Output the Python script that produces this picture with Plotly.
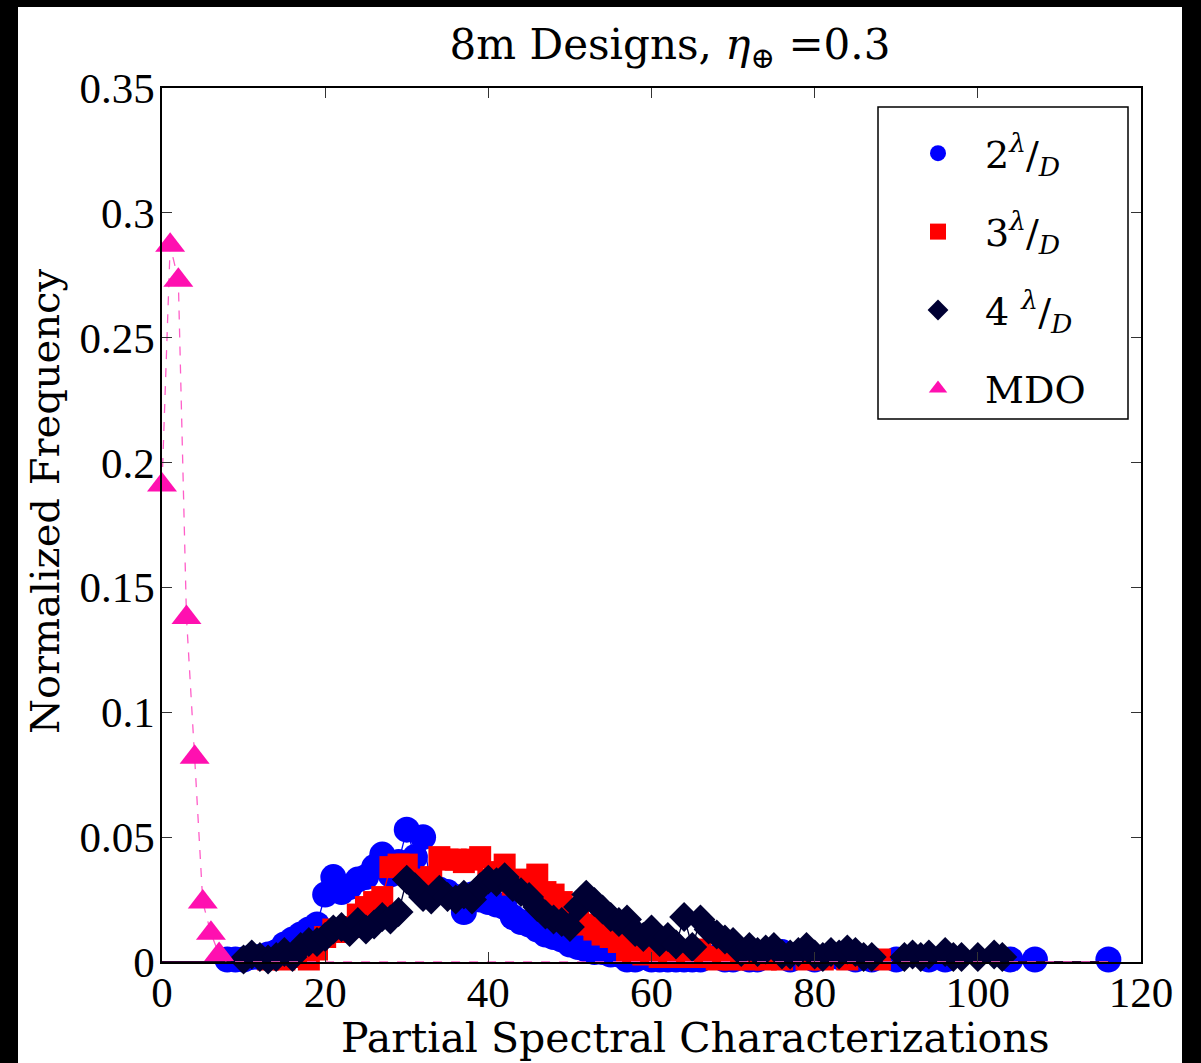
import plotly.graph_objects as go

# ---------------- data ----------------
x_2ld = [8, 9, 10, 11, 12, 13, 14, 15, 16, 17, 18, 19, 20, 21, 22, 23, 24, 25, 26, 27,
         28, 29, 30, 31, 32, 33, 34, 35, 36, 37, 38, 39, 40, 41, 42, 43, 44, 45, 46, 47,
         48, 49, 50, 51, 52, 53, 54, 55, 56, 57, 58, 59, 60, 61, 62, 63, 64, 65, 66, 68,
         69, 70, 72, 73, 75, 76, 77, 78, 80, 83, 85, 87, 90, 94, 96, 104, 107, 116]
y_2ld = [0.001, 0.001, 0.001, 0.002, 0.002, 0.003, 0.004, 0.007, 0.009, 0.011, 0.013, 0.015,
         0.027, 0.034, 0.028, 0.030, 0.033, 0.034, 0.038, 0.043, 0.035, 0.040, 0.053, 0.042,
         0.050, 0.030, 0.029, 0.028, 0.026, 0.020, 0.027, 0.025, 0.024, 0.023, 0.022, 0.018,
         0.016, 0.015, 0.013, 0.011, 0.010, 0.009, 0.007, 0.006, 0.005, 0.004, 0.004, 0.003,
         0.003, 0.001, 0.001, 0.002, 0.001, 0.001, 0.001, 0.001, 0.001, 0.001, 0.001, 0.002,
         0.001, 0.001, 0.001, 0.001, 0.002, 0.004, 0.001, 0.003, 0.001, 0.002, 0.001, 0.001,
         0.001, 0.001, 0.001, 0.001, 0.001, 0.001]

x_3ld = [13, 15, 17, 18, 19, 20, 21, 22, 23, 24, 25, 26, 27, 28, 29, 30, 31, 32, 33, 34,
         35, 36, 37, 38, 39, 40, 41, 42, 43, 44, 45, 46, 47, 48, 49, 50, 51, 52, 53, 54,
         55, 56, 57, 58, 59, 60, 61, 62, 63, 64, 65, 66, 67, 68, 69, 70, 72, 74, 76, 79,
         81, 84, 88]
y_3ld = [0.001, 0.001, 0.002, 0.001, 0.005, 0.010, 0.013, 0.012, 0.014, 0.019, 0.022, 0.024,
         0.026, 0.038, 0.039, 0.039, 0.033, 0.030, 0.034, 0.042, 0.041, 0.041, 0.040, 0.041,
         0.042, 0.033, 0.036, 0.039, 0.031, 0.033, 0.030, 0.035, 0.028, 0.027, 0.024, 0.021,
         0.018, 0.015, 0.013, 0.011, 0.010, 0.008, 0.004, 0.005, 0.003, 0.004, 0.002, 0.004,
         0.002, 0.003, 0.002, 0.005, 0.002, 0.001, 0.002, 0.001, 0.001, 0.001, 0.001, 0.001,
         0.001, 0.001, 0.001]

x_4ld = [10, 11, 12, 13, 14, 15, 16, 17, 18, 19, 20, 21, 22, 23, 24, 25, 26, 27, 28, 29,
         30, 31, 32, 33, 34, 35, 36, 37, 38, 39, 40, 41, 42, 43, 44, 45, 46, 47, 48, 49,
         50, 51, 52, 53, 54, 55, 56, 57, 58, 59, 60, 61, 62, 63, 64, 65, 66, 67, 68, 69,
         70, 71, 72, 73, 74, 75, 76, 77, 78, 79, 80, 81, 82, 83, 84, 85, 86, 87, 91, 92,
         93, 94, 96, 97, 98, 100, 102, 103]
y_4ld = [0.001, 0.003, 0.002, 0.001, 0.002, 0.004, 0.002, 0.006, 0.008, 0.008, 0.010, 0.013,
         0.014, 0.012, 0.016, 0.013, 0.015, 0.018, 0.017, 0.020, 0.033, 0.030, 0.026, 0.025,
         0.029, 0.026, 0.025, 0.027, 0.025, 0.030, 0.033, 0.032, 0.034, 0.030, 0.028, 0.026,
         0.022, 0.019, 0.017, 0.016, 0.014, 0.022, 0.027, 0.024, 0.021, 0.018, 0.016, 0.017,
         0.012, 0.010, 0.013, 0.008, 0.010, 0.007, 0.018, 0.006, 0.017, 0.013, 0.011, 0.009,
         0.008, 0.004, 0.006, 0.004, 0.005, 0.006, 0.003, 0.003, 0.004, 0.006, 0.003, 0.002,
         0.004, 0.003, 0.005, 0.004, 0.002, 0.002, 0.002, 0.003, 0.002, 0.003, 0.004, 0.002,
         0.002, 0.002, 0.003, 0.002]

x_mdo = [0, 1, 2, 3, 4, 5, 6, 7]
y_mdo = [0.191, 0.287, 0.273, 0.138, 0.082, 0.024, 0.0115, 0.003]

bin_max = 116  # last histogram bin shown

names = ["2<sup><i>λ</i></sup>/<sub><i>D</i></sub>",
         "3<sup><i>λ</i></sup>/<sub><i>D</i></sub>",
         "4 <sup><i>λ</i></sup>/<sub><i>D</i></sub>",
         "MDO"]

x_ticks = [0, 20, 40, 60, 80, 100, 120]
y_ticks = [0, 0.05, 0.1, 0.15, 0.2, 0.25, 0.3, 0.35]

title_text = "8m Designs, <i>η</i><sub>⊕</sub> =0.3"
x_title = "Partial Spectral Characterizations"
y_title = "Normalized Frequency"

# ---------------- layout constants ----------------
W, H = 1201, 1063
ML, MR, MT, MB = 162, 60, 88, 101
PW, PH = W - ML - MR, H - MT - MB


def px_x(p):
    return (p - ML) / PW


def px_y(p):
    return (H - MB - p) / PH


def full_bins(xs, ys):
    d = dict(zip(xs, ys))
    bx = list(range(0, bin_max + 1))
    return bx, [d.get(b, 0.0) for b in bx]


series = [
    (x_2ld, y_2ld, "#0000FF", "#0000FF", "circle", 26, "solid"),
    (x_3ld, y_3ld, "#FF0000", "#FF0000", "square", 22, "solid"),
    (x_4ld, y_4ld, "#000033", "#000033", "diamond", 23, "solid"),
    (x_mdo, y_mdo, "#FF10B0", "#FF5EC8", "triangle-up", 26, "dash"),
]

fig = go.Figure()
for i, (xs, ys, mcol, lcol, sym, size, dash) in enumerate(series):
    bx, by = full_bins(xs, ys)
    fig.add_trace(go.Scatter(
        x=bx, y=by, mode="lines", showlegend=False, legendgroup=str(i),
        line=dict(color=lcol, width=1.3, dash=dash), hoverinfo="skip",
        cliponaxis=False))
    fig.add_trace(go.Scatter(
        x=xs, y=ys, mode="markers", name=names[i], legendgroup=str(i),
        marker=dict(color=mcol, symbol=sym, size=size, line=dict(width=0)),
        cliponaxis=False))

serif = "DejaVu Serif"
tickfont = dict(family="Liberation Serif", size=43, color="black")

axis_common = dict(showline=True, linecolor="black", linewidth=1.5, mirror="ticks",
                   ticks="inside", ticklen=10, tickwidth=1, tickcolor="#333333",
                   showgrid=False, zeroline=False, tickfont=tickfont)

fig.update_layout(
    width=W, height=H,
    margin=dict(l=ML, r=MR, t=MT, b=MB, pad=0),
    paper_bgcolor="white", plot_bgcolor="white",
    xaxis=dict(range=[0, 120], tickvals=x_ticks, ticklabelstandoff=-8, **axis_common),
    yaxis=dict(range=[0, 0.35], tickvals=y_ticks, ticklabelstandoff=-3, **axis_common),
    title=dict(text=title_text, x=670 / W, xanchor="center", y=1 - 44 / H,
               yanchor="middle", font=dict(family=serif, size=42, color="black")),
    legend=dict(x=px_x(891), y=px_y(122), xanchor="left", yanchor="top",
                bgcolor="rgba(0,0,0,0)", borderwidth=0, itemwidth=84,
                font=dict(family=serif, size=38, color="black"),
                traceorder="grouped", tracegroupgap=26),
    showlegend=True,
)

fig.add_annotation(text=x_title, xref="paper", yref="paper",
                   x=px_x(695), y=px_y(1038), xanchor="center", yanchor="middle",
                   showarrow=False, font=dict(family=serif, size=41, color="black"))
fig.add_annotation(text=y_title, xref="paper", yref="paper", textangle=-90,
                   x=px_x(45), y=px_y(502), xanchor="center", yanchor="middle",
                   showarrow=False, font=dict(family=serif, size=40, color="black"))

# legend box
fig.add_shape(type="rect", xref="paper", yref="paper",
              x0=px_x(878), x1=px_x(1128), y0=px_y(419), y1=px_y(107),
              line=dict(color="black", width=1.5), fillcolor="rgba(0,0,0,0)", layer="above")

# black frame around the figure
for (a, b, c, d) in [(0, 18, 0, H), (1182, W + 2, 0, H), (0, W + 2, -2, 7)]:
    fig.add_shape(type="rect", xref="paper", yref="paper",
                  x0=px_x(a), x1=px_x(b), y0=px_y(d), y1=px_y(c),
                  line=dict(width=0), fillcolor="black", layer="above")

fig.write_html("out.html")
